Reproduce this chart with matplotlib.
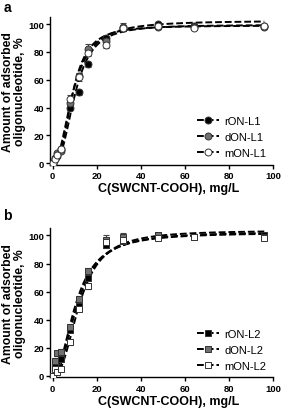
import numpy as np
import matplotlib
matplotlib.use('Agg')
import matplotlib.pyplot as plt

plt.rcParams['font.family'] = ['Liberation Sans', 'DejaVu Sans']

# concentrations of SWCNT-COOH, mg/L
conc = [0, 1, 2, 4, 8, 12, 16, 24, 32, 48, 64, 96]

# panel a: L1 oligonucleotides
r_l1 = [0, 3, 5, 10, 40, 51, 71, 90, 97, 100, 99, 99]
d_l1 = [0, 4, 7, 9, 43, 63, 82, 88, 98, 98, 98, 98]
m_l1 = [0, 3, 6, 10, 46, 62, 79, 85, 97, 99, 97, 99]
r_l1_err = [0, 1, 1, 1, 2, 2, 2, 1, 2, 1, 1, 1]
d_l1_err = [0, 1, 1, 1, 2, 2, 4, 2, 3, 1, 1, 1]
m_l1_err = [0, 1, 1, 1, 3, 3, 2, 2, 2, 2, 1, 1]

# panel b: L2 oligonucleotides
r_l2 = [0, 8, 11, 12, 33, 50, 70, 93, 96, 100, 99, 100]
d_l2 = [0, 11, 16, 17, 35, 55, 75, 97, 99, 100, 99, 99]
m_l2 = [0, 5, 3, 5, 24, 48, 64, 95, 97, 98, 99, 98]
r_l2_err = [0, 2, 2, 2, 2, 2, 2, 2, 2, 1, 1, 1]
d_l2_err = [0, 2, 2, 2, 2, 2, 2, 3, 3, 1, 1, 2]
m_l2_err = [0, 1, 1, 1, 2, 2, 2, 2, 2, 1, 1, 1]

# Hill fit parameters (top, EC50, slope)
fit_l1 = {'r': (99.5, 10.2, 2.6), 'd': (99.0, 9.0, 2.6), 'm': (102.5, 9.3, 2.2)}
fit_l2 = {'r': (102.5, 11.3, 2.2), 'd': (102.0, 10.5, 2.1), 'm': (103.5, 12.3, 2.4)}


def hill(x, top, ec50, n):
    return top * x**n / (ec50**n + x**n)


def draw_panel(ax, series, fits, names, marker, letter, fig_y):
    colors = ['black', '#707070', 'white']
    xs = np.linspace(0, 96, 400)
    for (y, err), key, c, name in zip(series, ['r', 'd', 'm'], colors, names):
        ax.errorbar(conc, y, yerr=err, fmt='none', ecolor='#444444', elinewidth=0.8,
                    capsize=2, capthick=0.8, zorder=2)
        ax.plot(xs, hill(xs, *fits[key]), color='black', ls=(0, (3.5, 1.5)), lw=1.4, zorder=3)
        ax.plot(conc, y, ls='none', marker=marker, ms=5, mfc=c, mec='#333333',
                mew=0.7, zorder=4)
        ax.plot([], [], color='black', ls=(0, (3.5, 1.5)), lw=1.4, marker=marker, ms=5,
                mfc=c, mec='#333333', mew=0.7, label=name)
    ax.set_xlim(-1, 100)
    ax.set_ylim(-1, 105)
    ax.set_xticks([0, 20, 40, 60, 80, 100])
    ax.set_yticks([0, 20, 40, 60, 80, 100])
    for s in ['top', 'right']:
        ax.spines[s].set_visible(False)
    for s in ['left', 'bottom']:
        ax.spines[s].set_linewidth(1.0)
    ax.tick_params(direction='out', length=3, width=1.0, labelsize=6.8, pad=1.5)
    for lab in ax.get_xticklabels() + ax.get_yticklabels():
        lab.set_fontweight('bold')
    ax.set_xlabel('C(SWCNT-COOH), mg/L', fontsize=9, fontweight='bold')
    ax.xaxis.set_label_coords(0.53, -0.12)
    ax.set_ylabel('Amount of adsorbed\noligonucleotide, %', fontsize=8.8, fontweight='bold',
                  linespacing=1.0)
    ax.yaxis.set_label_coords(-0.11, 0.5)
    ax.legend(loc='lower right', frameon=False, fontsize=8, handlelength=2.0,
              handletextpad=0.5, labelspacing=0.55, borderaxespad=0.2)
    ax.figure.text(0.012, fig_y, letter, fontsize=10, fontweight='bold', va='top')


fig = plt.figure(figsize=(2.83, 4.14), dpi=100)
ax1 = fig.add_axes([0.178, 0.600, 0.787, 0.356])
ax2 = fig.add_axes([0.178, 0.086, 0.787, 0.360])

draw_panel(ax1, [(r_l1, r_l1_err), (d_l1, d_l1_err), (m_l1, m_l1_err)], fit_l1,
           ['rON-L1', 'dON-L1', 'mON-L1'], 'o', 'a', 0.997)
draw_panel(ax2, [(r_l2, r_l2_err), (d_l2, d_l2_err), (m_l2, m_l2_err)], fit_l2,
           ['rON-L2', 'dON-L2', 'mON-L2'], 's', 'b', 0.494)

fig.savefig('out.png', dpi=100)
